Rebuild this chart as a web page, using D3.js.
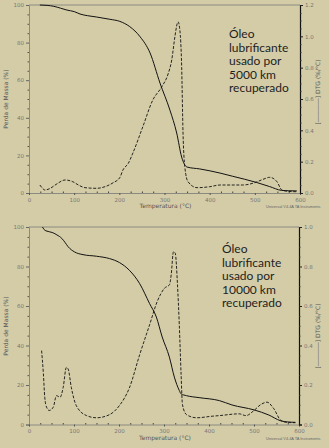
<!DOCTYPE html>
<html><head><meta charset="utf-8">
<script src="https://cdn.jsdelivr.net/npm/d3@7"></script>
<style>
html,body{margin:0;padding:0;background:#d4cca7;}
svg{display:block;}
</style></head><body>
<svg id="c" width="329" height="448"></svg>
<script>
// ---- data ----
const tempTG1 = [24,40,55,70,84,100,113,130,150,179,201,223,246,268,290,312,327,338,350,378,423,451,504,533,559,575,593];
const massTG1 = [100,99.8,99.3,98.3,97.3,96.5,95.2,94.3,93.6,92.4,91.3,88.5,83.1,74.5,58.5,44.1,31.9,19.1,13.8,12.8,10.6,8.9,5.6,3.4,1.4,1.2,1.1];
const tempDTG1 = [24,30,35,46,60,80,97,110,124,150,170,186,201,208,220,230,252,274,294,308,316,323,328,330,334,338,341,345,352,372,400,423,473,500,518,533,549,560,575,593];
const derivDTG1 = [0.051,0.03,0.019,0.028,0.055,0.083,0.072,0.05,0.034,0.030,0.042,0.065,0.098,0.147,0.19,0.255,0.423,0.593,0.678,0.76,0.849,0.997,1.08,1.093,1.04,0.806,0.383,0.166,0.072,0.034,0.040,0.051,0.051,0.066,0.087,0.1,0.072,0.019,0.01,0.008];

const tempTG2 = [30,35,45,53,62,73,80,87,101,120,150,179,201,223,246,268,283,296,312,323,334,338,350,378,423,451,500,533,559,575,592];
const massTG2 = [100,98.4,97.6,97.1,96,94.2,92.2,90,87.4,86,85.2,84,82,78.1,71.3,61.2,54.4,44.3,34.1,24,17.2,15.5,14.6,13.6,12.1,9.9,7.4,4.8,1.9,1.3,1.1];
const tempDTG2 = [28,32,35,39,45,54,61,69,76,83,87,94,105,128,150,179,201,223,246,268,285,301,312,316,321,325,330,334,338,341,350,372,407,423,467,482,500,515,529,544,560,575,592];
const derivDTG2 = [0.374,0.256,0.138,0.088,0.071,0.088,0.146,0.138,0.188,0.289,0.281,0.188,0.096,0.045,0.034,0.05,0.096,0.185,0.354,0.505,0.623,0.69,0.707,0.758,0.875,0.867,0.707,0.505,0.253,0.101,0.05,0.034,0.042,0.045,0.054,0.045,0.071,0.101,0.113,0.08,0.02,0.01,0.009];

const xTicks = [0,100,200,300,400,500,600];
const leftTicks = [0,20,40,60,80,100];
const rightTicks1 = [0,0.2,0.4,0.6,0.8,1.0,1.2];
const rightTicks2 = [0,0.2,0.4,0.6,0.8,1.0];
const notes1 = ["Óleo","lubrificante","usado por","5000 km","recuperado"];
const notes2 = ["Óleo","lubrificante","usado por","10000 km","recuperado"];

const svg = d3.select("#c");
const gray = "#777", tickFont = "DejaVu Sans, sans-serif";

function fmtR(v){ return v.toFixed(1); }

function panel(o){
  const g = svg.append("g");
  const x = d3.scaleLinear().domain([0,600]).range([o.x0,o.x1]);
  const yL = d3.scaleLinear().domain([0,100]).range([o.yb,o.yt]);
  const yR = d3.scaleLinear().domain([0,o.rmax]).range([o.yb,o.yt]);

  // top border
  g.append("line").attr("x1",o.x0).attr("x2",o.x1).attr("y1",o.yt).attr("y2",o.yt)
    .attr("stroke","#8a8a80").attr("stroke-width",1);

  // left axis
  const la = g.append("g").attr("transform",`translate(${o.x0},0)`)
    .call(d3.axisLeft(yL).tickValues(leftTicks).tickSize(3).tickPadding(2).tickFormat(d3.format("d")));
  la.select(".domain").attr("stroke","#8a8a80");
  la.selectAll(".tick line").attr("stroke","#666");
  la.selectAll("text").attr("fill",gray).attr("font-size",5.5).attr("font-family",tickFont);
  g.append("g").attr("transform",`translate(${o.x0},0)`)
    .call(d3.axisLeft(yL).tickValues(d3.range(0,101,5).filter(v=>v%20)).tickSize(1.5).tickFormat(""))
    .call(s=>{s.select(".domain").remove(); s.selectAll("line").attr("stroke","#555");});

  // bottom axis
  const ba = g.append("g").attr("transform",`translate(0,${o.yb})`)
    .call(d3.axisBottom(x).tickValues(xTicks).tickSize(2).tickPadding(3).tickFormat(d3.format("d")));
  ba.select(".domain").attr("stroke","#8a8a80");
  ba.selectAll(".tick line").attr("stroke","#555");
  ba.selectAll("text").attr("fill",gray).attr("font-size",5.5).attr("font-family",tickFont);
  g.append("g").attr("transform",`translate(0,${o.yb})`)
    .call(d3.axisTop(x).tickValues(d3.range(25,600,25).filter(v=>v%100)).tickSize(1.5).tickFormat(""))
    .call(s=>{s.select(".domain").remove(); s.selectAll("line").attr("stroke","#444");});

  // right axis
  const ra = g.append("g").attr("transform",`translate(${o.x1},0)`)
    .call(d3.axisRight(yR).tickValues(o.rticks).tickSize(3).tickPadding(2).tickFormat(fmtR));
  ra.select(".domain").attr("stroke","#111").attr("stroke-width",1.2);
  ra.selectAll(".tick line").attr("stroke","#222");
  ra.selectAll("text").attr("fill",gray).attr("font-size",5.5).attr("font-family",tickFont);
  g.append("g").attr("transform",`translate(${o.x1},0)`)
    .call(d3.axisRight(yR).tickValues(d3.range(0,o.rmax+0.001,0.05).filter((v,i)=>i%4)).tickSize(1.5).tickFormat(""))
    .call(s=>{s.select(".domain").remove(); s.selectAll("line").attr("stroke","#333");});

  // curves
  const lineTG = d3.line().x(d=>x(d[0])).y(d=>yL(d[1])).curve(d3.curveMonotoneX);
  const lineDTG = d3.line().x(d=>x(d[0])).y(d=>yR(d[1])).curve(d3.curveMonotoneX);
  g.append("path").datum(d3.zip(o.tT,o.mT)).attr("d",lineTG)
    .attr("fill","none").attr("stroke","#111").attr("stroke-width",1);
  g.append("path").datum(d3.zip(o.tD,o.vD)).attr("d",lineDTG)
    .attr("fill","none").attr("stroke","#111").attr("stroke-width",0.9).attr("stroke-dasharray","3,1.6");

  // titles
  g.append("text").attr("transform",`translate(${o.lx},${o.ly}) rotate(-90)`)
    .attr("text-anchor","middle").attr("fill","#555").attr("font-size",6).attr("font-family",tickFont)
    .text("Perda de Massa (%)");
  g.append("text").attr("transform",`translate(${o.rx},${o.ry}) rotate(-90)`)
    .attr("text-anchor","middle").attr("fill","#555").attr("font-size",6).attr("font-family",tickFont)
    .text("[――――] DTG (%/°C)");
  g.append("text").attr("x",(o.x0+o.x1)/2+1).attr("y",o.yb+15)
    .attr("text-anchor","middle").attr("fill","#555").attr("font-size",6).attr("font-family",tickFont)
    .text("Temperatura (°C)");
  g.append("text").attr("x",266).attr("y",o.yb+15)
    .attr("fill","#666").attr("font-size",3.9).attr("font-family","Liberation Sans, Arial, sans-serif")
    .text("Universal V4.4A TA Instruments");

  // annotation
  const t = g.append("text").attr("x",o.nx).attr("y",o.ny).attr("fill","#1e1e1e")
    .attr("font-size",12).attr("font-family","Lato, sans-serif");
  o.notes.forEach((s,i)=>t.append("tspan").attr("x",o.nx).attr("dy",i?13.6:0).text(s));
}

panel({x0:29,x1:300,yt:5,yb:193,rmax:1.2,rticks:rightTicks1,
  tT:tempTG1,mT:massTG1,tD:tempDTG1,vD:derivDTG1,
  lx:8,ly:99,rx:320,ry:92,nx:229,ny:38,notes:notes1});
panel({x0:29,x1:299,yt:227,yb:424.5,rmax:1.0,rticks:rightTicks2,
  tT:tempTG2,mT:massTG2,tD:tempDTG2,vD:derivDTG2,
  lx:8,ly:326,rx:320,ry:336,nx:222,ny:253,notes:notes2});
</script>
</body></html>
